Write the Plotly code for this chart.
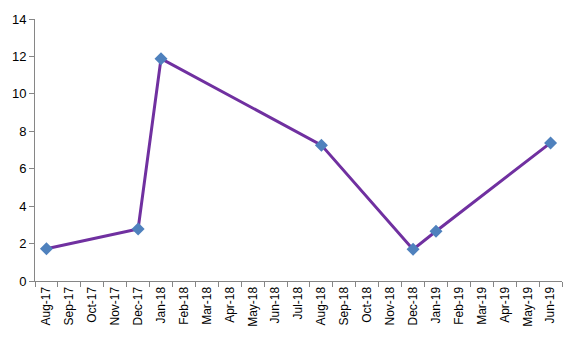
import plotly.graph_objects as go

months = ["Aug-17", "Sep-17", "Oct-17", "Nov-17", "Dec-17", "Jan-18", "Feb-18", "Mar-18",
          "Apr-18", "May-18", "Jun-18", "Jul-18", "Aug-18", "Sep-18", "Oct-18", "Nov-18",
          "Dec-18", "Jan-19", "Feb-19", "Mar-19", "Apr-19", "May-19", "Jun-19"]
values = [1.72, None, None, None, 2.78, 11.88, None, None,
          None, None, None, None, 7.26, None, None, None,
          1.69, 2.66, None, None, None, None, 7.38]

fig = go.Figure()
fig.add_trace(go.Scatter(
    x=months, y=values, mode="lines+markers", connectgaps=True,
    line=dict(color="#7030A0", width=3),
    marker=dict(symbol="diamond", size=10, color="#4F81BD"),
    showlegend=False, cliponaxis=False,
))
# page body has an 8px margin, so the figure is offset by 8px
fig.update_layout(
    width=579, height=356,
    margin=dict(l=27, r=25, t=11, b=83),
    paper_bgcolor="white", plot_bgcolor="white",
    font=dict(family="Liberation Sans, Arial, sans-serif", size=13, color="#000000"),
)
fig.update_xaxes(
    type="category", categoryorder="array", categoryarray=months,
    range=[-0.5, len(months) - 0.5], automargin=False,
    tickangle=-90, ticks="outside", tickson="boundaries", ticklen=5,
    tickcolor="#868686", showline=True, linecolor="#868686", linewidth=1,
    showgrid=False, zeroline=False, tickfont=dict(size=12),
)
fig.update_yaxes(
    range=[0, 14], dtick=2, ticks="outside", ticklen=5, automargin=False,
    tickcolor="#868686", showline=True, linecolor="#868686", linewidth=1,
    showgrid=False, zeroline=False,
)
fig.write_html("out.html")
